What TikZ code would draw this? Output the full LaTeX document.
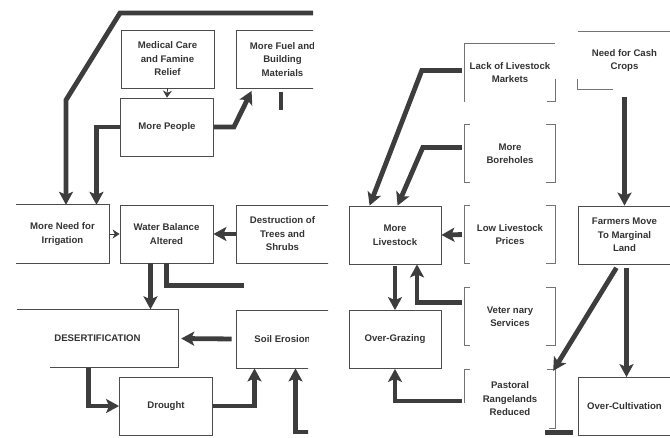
\documentclass[tikz,border=0pt]{standalone}
\usepackage{fontspec}
\newfontfamily\boxfont{Liberation Sans}
\usetikzlibrary{arrows.meta,calc}

\begin{document}
\begin{tikzpicture}[x=1pt, y=-1pt,
  box/.style={minimum width=93pt, minimum height=58pt, inner sep=0pt, align=center, text=black!80, font=\boxfont\bfseries\fontsize{9.6pt}{13.5pt}\selectfont},
  frame/.style={draw=black!70, line width=0.8pt},
  rim/.style={draw=black!55, line width=0.7pt},
  flow/.style={draw=black!76, line width=4.8pt, -{Stealth[length=13pt,width=14pt,inset=3pt]}},
  bar/.style={draw=black!76, line width=4.8pt},
  tick/.style={draw=black!76, line width=0.8pt, -{Stealth[length=7pt,width=9pt]}}]
\useasboundingbox (0,0) rectangle (670,437);
\clip (0,0) rectangle (670,437);

% left half of the page
\begin{scope}
\clip (0,0) -- (313,0) -- (313,190) -- (328,190) -- (328,322) -- (308,322) -- (308,437) -- (0,437) -- cycle;
\node[box, frame] (medical) at (167.5,59) {Medical Care\\and Famine\\Relief};
\node[box, frame] (fuel) at (282.5,59.5) {More Fuel and\\Building\\Materials};
\node[box, frame] (people) at (167,127) {More People};
\node[box] (irrig) at (62.5,234) {More Need for\\Irrigation};
\node[box, frame] (water) at (166.5,234) {Water Balance\\Altered};
\node[box, frame] (trees) at (282.5,234) {Destruction of\\Trees and\\Shrubs};
\node[box, minimum width=161pt] (desert) at (97.5,338.5) {DESERTIFICATION};
\node[box, frame] (erosion) at (282.5,339) {Soil Erosion};
\node[box, frame] (drought) at (166,406) {Drought};
\draw[frame] (irrig.north west) -- (irrig.north east) -- (irrig.south east) -- (irrig.south west);
\draw[frame] (desert.north west) -- (desert.north east) -- (desert.south east) -- ($(desert.south west)+(33,0)$);

\coordinate (topcut) at (313,13);
\coordinate (bendA) at (66,100);
\coordinate (wdrop) at ($(water.south)+(-16,0)$);
\coordinate (ddrop) at ($(desert.south west)+(72,0)$);
\coordinate (lowcut) at (320,432);
\draw[flow] (topcut) -- (120,13) -- (bendA) -- (bendA |- irrig.north);
\draw[flow] (people.west) -| ($(irrig.north)+(34,0)$);
\draw[flow] (people.east) -- ++(20,0) -- ($(fuel.south west)+(16,2)$);
\draw[tick] (medical.south) -- (people.north);
\draw[bar] ($(fuel.south)+(-1.5,3)$) -- ++(0,18);
\draw[tick] (irrig.east) -- (water.west);
\draw[flow] (trees.west) -- (water.east);
\draw[flow] (wdrop) -- (wdrop |- desert.north);
\draw[bar] (water.south) |- ++(77,22);
\draw[flow, shorten <=4pt, shorten >=3pt] (erosion.west) -- (desert.east);
\draw[flow] (ddrop) |- (drought.west);
\draw[flow] (drought.east) -| ($(erosion.south)+(-28,0)$);
\draw[flow] (lowcut) -| ($(erosion.south)+(13,0)$);
\end{scope}

% right half of the page
\node[box] (cash) at (624.5,60.5) {Need for Cash\\Crops};
\node[box, minimum width=90pt] (market) at (510,72.5) {Lack of Livestock\\Markets};
\node[box, minimum width=90pt] (bore) at (510,153.5) {More\\Boreholes};
\node[box, minimum width=90pt] (prices) at (510,234.5) {Low Livestock\\Prices};
\node[box, minimum width=90pt] (vet) at (510,316.5) {Veter nary\\Services};
\node[box, minimum width=90pt] (pastoral) at (510,399) {Pastoral\\Rangelands\\Reduced};
\node[box, frame, minimum width=92pt] (stock) at (395,235) {More\\Livestock};
\node[box, frame, minimum width=92pt] (grazing) at (395,339.5) {Over-Grazing};
\node[box, frame] (farmers) at (624.5,235) {Farmers Move\\To Marginal\\Land};
\node[box, frame] (cultiv) at (624.5,406.5) {Over-Cultivation};

\draw[rim] (cash.north west) -- (cash.north east);
\draw[rim] ($(cash.west)+(0,18)$) -- (cash.south west) -- ++(35,0);
\draw[rim] (market.south west) -- (market.north west) -- (market.north east);
\draw[rim] ($(market.east)+(0,6)$) -- (market.south east) -- ++(-8,0);
\foreach \n in {bore,prices,vet}{
  \draw[rim] ([xshift=5pt]\n.north west) -- (\n.north west) -- (\n.south west) -- ++(5,0);
  \draw[rim] ([xshift=-9pt]\n.north east) -- (\n.north east) -- (\n.south east) -- ++(-9,0);
}
\draw[rim] ([xshift=5pt]pastoral.north west) -- (pastoral.north west) -- ++(0,33);
\draw[rim] ([xshift=-8pt]pastoral.north east) -- (pastoral.north east) -- (pastoral.south east) -- ++(-6,0);
\draw[bar] ($(pastoral.south east)+(-10,4)$) -- ++(28,0);

\draw[flow, shorten <=3pt] ([yshift=2pt]market.west) -- ++(-43,0) -- ($(stock.north west)+(21,0)$);
\draw[flow, shorten <=3pt] ([yshift=6pt]bore.west) -- ++(-42,0) -- ($(stock.north west)+(49,0)$);
\draw[flow] ([yshift=-7pt]cash.south) -- (farmers.north);
\draw[flow, shorten <=3pt] (prices.west) -- (stock.east);
\draw[flow, shorten <=2pt] (stock.south) -- (grazing.north);
\draw[flow, shorten <=3pt] ([yshift=14pt]vet.west) -| ($(stock.south)+(22,0)$);
\draw[flow, shorten <=3pt] ([yshift=-2pt]pastoral.west) -| (grazing.south);
\draw[flow, shorten <=4pt] ([xshift=-6pt]farmers.south) -- ($(pastoral.north east)+(-2,1)$);
\draw[flow, shorten <=4pt] ([xshift=2pt]farmers.south) -- ([xshift=2pt]cultiv.north);
\end{tikzpicture}
\end{document}
